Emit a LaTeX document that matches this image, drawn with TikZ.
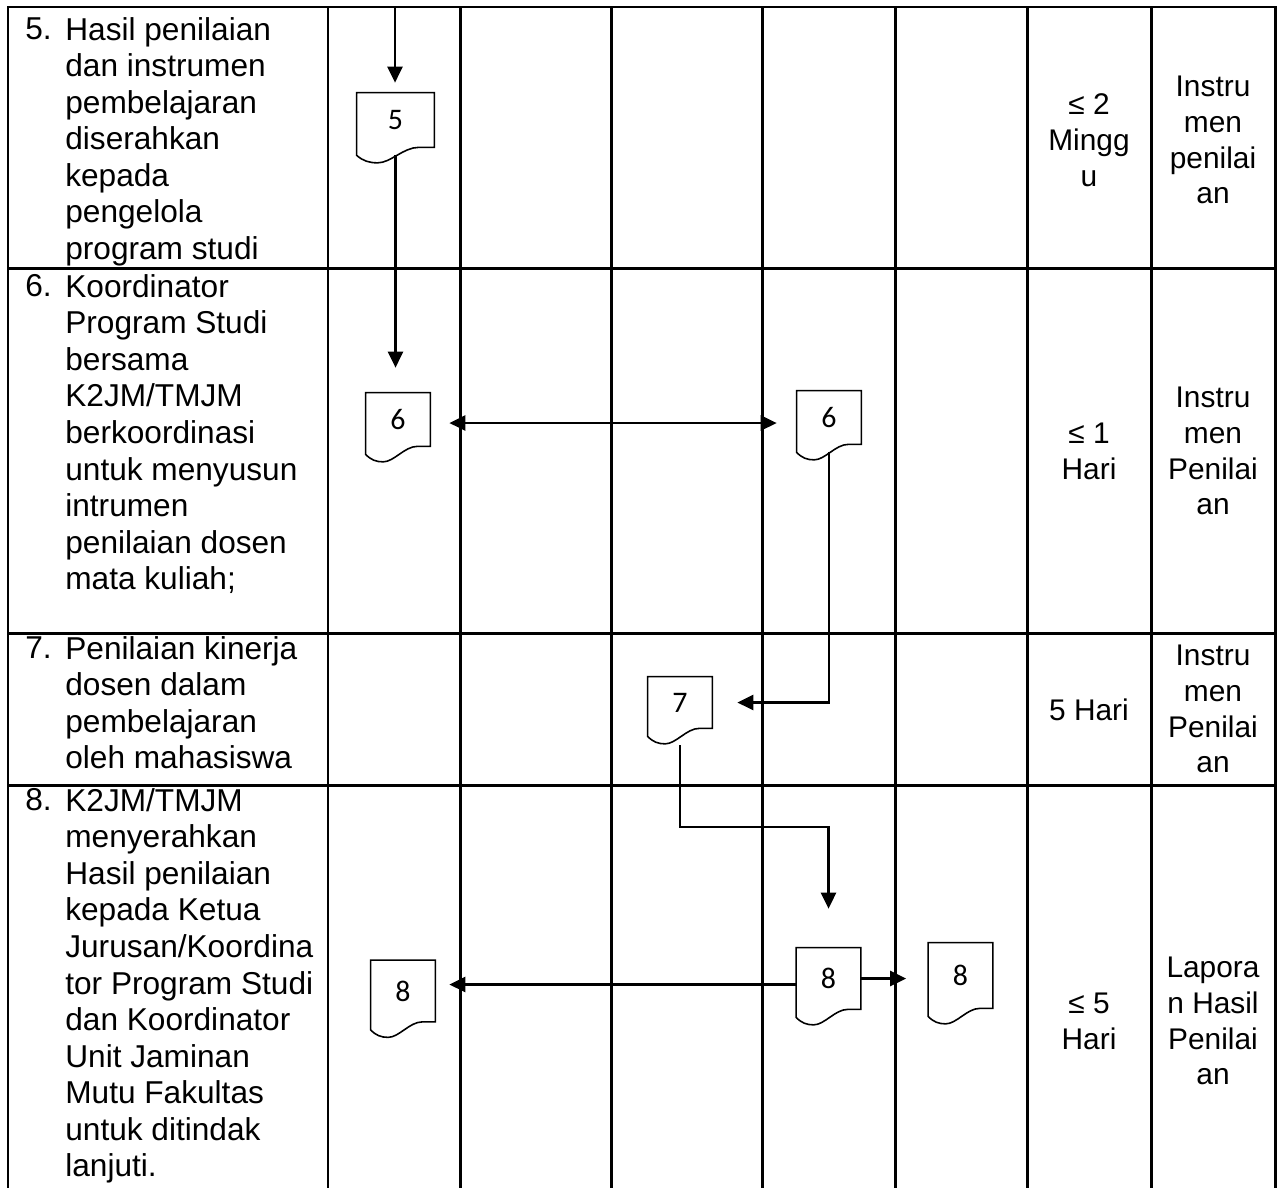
\documentclass[tikz,border=0pt]{standalone}
\usepackage{fontspec}
\setmainfont{Liberation Sans}
\newfontfamily\docfont{Carlito}
\usetikzlibrary{arrows.meta, calc, positioning}

\tikzstyle{tabline} = [line width=1.7pt, line cap=rect]
\tikzstyle{docline} = [line width=0.9pt, line join=miter]
\tikzstyle{doc} = [rectangle, inner sep=0pt, minimum width=1.28cm, text centered, font=\docfont\fontsize{17}{20}\selectfont]
\tikzstyle{num} = [anchor=north west, inner sep=0pt, font=\fontsize{18}{20.8}\selectfont]
\tikzstyle{body} = [anchor=north west, inner sep=0pt, align=left, font=\fontsize{18}{20.8}\selectfont]
\tikzstyle{info} = [inner sep=0pt, align=center, font=\fontsize{17}{20.4}\selectfont]
\tikzstyle{arrow} = [line width=1.5pt, -{Triangle[length=0.32cm, width=0.3cm]}]
\tikzstyle{twoway} = [line width=1.5pt, {Triangle[length=0.32cm, width=0.3cm]}-{Triangle[length=0.32cm, width=0.3cm]}]

% outline of a document symbol round a doc node
\newcommand{\docframe}[1]{%
  \draw[docline] (#1.south east) -- (#1.north east) -- (#1.north west)
    -- ($(#1.south west)+(0cm,-0.16cm)$)
    .. controls ($(#1.south west)!0.08!(#1.south east)+(0cm,-0.27cm)$) and ($(#1.south west)!0.16!(#1.south east)+(0cm,-0.31cm)$) .. ($(#1.south west)!0.27!(#1.south east)+(0cm,-0.31cm)$)
    .. controls ($(#1.south west)!0.44!(#1.south east)+(0cm,-0.31cm)$) and ($(#1.south west)!0.6!(#1.south east)$) .. ($(#1.south west)!0.8!(#1.south east)$)
    -- cycle;}

\begin{document}
\begin{tikzpicture}[x=0.02cm, y=-0.02cm]
\useasboundingbox (0,0) rectangle (1283,1187);

% table
\foreach \x in {8,328,460,611,762,895,1027,1151,1275}
  \draw[tabline] (\x,7) -- (\x,1187);
\foreach \y in {7,268,633,785}
  \draw[tabline] (8,\y) -- (1275,\y);

% steps
\node (n5) [num] at (25,17) {5.};
\node (t5) [body] at (65,17) {Hasil penilaian\\dan instrumen\\pembelajaran\\diserahkan\\kepada\\pengelola\\program studi};
\node (n6) [num] at (25,274) {6.};
\node (t6) [body] at (65,274) {Koordinator\\Program Studi\\bersama\\K2JM/TMJM\\berkoordinasi\\untuk menyusun\\intrumen\\penilaian dosen\\mata kuliah;};
\node (n7) [num] at (25,636) {7.};
\node (t7) [body] at (65,636) {Penilaian kinerja\\dosen dalam\\pembelajaran\\oleh mahasiswa};
\node (n8) [num] at (25,788) {8.};
\node (t8) [body] at (65,788) {K2JM/TMJM\\menyerahkan\\Hasil penilaian\\kepada Ketua\\Jurusan/Koordina\\tor Program Studi\\dan Koordinator\\Unit Jaminan\\Mutu Fakultas\\untuk ditindak\\lanjuti.};

% time and output
\node (w5) [info] at (1089,140) {≤ 2\\Mingg\\u};
\node (o5) [info] at (1213,140) {Instru\\men\\penilai\\an};
\node (w6) [info] at (1089,451) {≤ 1\\Hari};
\node (o6) [info] at (1213,451) {Instru\\men\\Penilai\\an};
\node (w7) [info] at (1089,710) {5 Hari};
\node (o7) [info] at (1213,709) {Instru\\men\\Penilai\\an};
\node (w8) [info] at (1089,1021) {≤ 5\\Hari};
\node (o8) [info] at (1213,1021) {Lapora\\n Hasil\\Penilai\\an};

% documents
\node (d5) [doc, minimum width=1.54cm, minimum height=1.08cm] at (395.5,120) {5};
\node (d6a) [doc, minimum height=1.06cm] at (398,419.5) {6};
\node (d6b) [doc, minimum height=1.06cm] at (829,417.5) {6};
\node (d7) [doc, minimum height=1.02cm] at (680,702.5) {7};
\node (d8a) [doc, minimum height=1.22cm] at (403,991) {8};
\node (d8b) [doc, minimum height=1.22cm] at (828.5,978.5) {8};
\node (d8c) [doc, minimum height=1.3cm] at (960.5,975.5) {8};

% flow
\coordinate (in5) at (395,7);
\coordinate (k78) at (760,827);
\draw[arrow, shorten >=0.2cm] (in5) -- (in5 |- d5.north);
\draw[arrow, shorten <=0.16cm, shorten >=0.5cm] (d5.south) -- (d5.south |- d6a.north);
\draw[twoway, shorten <=0.38cm, shorten >=0.4cm] ([yshift=-0.07cm]d6a.east) -- ([yshift=-0.07cm]d6a.east -| d6b.west);
\draw[arrow, shorten <=0.16cm, shorten >=0.5cm] (d6b.south) |- (d7.east);
\draw[arrow, shorten <=0.34cm, shorten >=0.78cm] (d7.south) |- (k78) -| (d8b.north);
\draw[arrow, shorten >=0.28cm] ([yshift=-0.12cm]d8b.west) -- ([yshift=-0.12cm]d8b.west -| d8a.east);
\draw[arrow, shorten >=0.44cm] (d8b.east) -- (d8b.east -| d8c.west);

\foreach \d in {d5,d6a,d6b,d7,d8a,d8b,d8c}
  \docframe{\d};

\end{tikzpicture}
\end{document}
